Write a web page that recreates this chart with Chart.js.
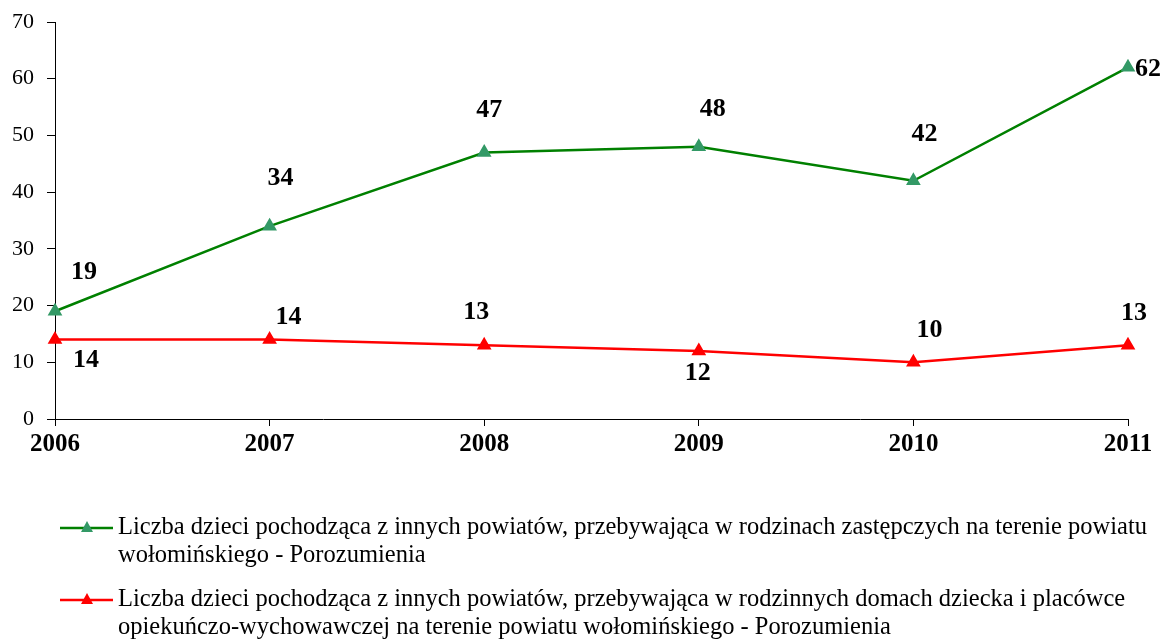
<!DOCTYPE html>
<html><head><meta charset="utf-8">
<script src="https://cdn.jsdelivr.net/npm/chart.js@4.4.0/dist/chart.umd.min.js"></script>
<style>html,body{margin:0;padding:0;background:#fff;}#wrap{position:relative;width:1165px;height:639px;}</style>
</head><body><div id="wrap"><canvas id="c" width="1165" height="639"></canvas></div>
<script>
const years = ['2006','2007','2008','2009','2010','2011'];
const yTicks = [0,10,20,30,40,50,60,70];
const greenValues = [19,34,47,48,42,62];
const redValues = [14,14,13,12,10,13];
const greenLabel = ['Liczba dzieci pochodząca z innych powiatów, przebywająca w rodzinach zastępczych na terenie powiatu','wołomińskiego - Porozumienia'];
const redLabel = ['Liczba dzieci pochodząca z innych powiatów, przebywająca w rodzinnych domach dziecka i placówce','opiekuńczo-wychowawczej na terenie powiatu wołomińskiego - Porozumienia'];

// label offsets (style)
const greenOffsets = [[29,-39],[11,-48],[5,-42],[14,-37],[11,-47],[20,2]];
const redOffsets = [[31,21],[19,-22],[-8,-33],[-1,22],[16,-32],[6,-32]];

const serif = "'Liberation Serif','Times New Roman',serif";

const labelPlugin = {
  id: 'pointLabels',
  afterDatasetsDraw(chart) {
    const ctx = chart.ctx;
    ctx.save();
    ctx.font = 'bold 26px ' + serif;
    ctx.fillStyle = '#000';
    ctx.textAlign = 'center';
    ctx.textBaseline = 'middle';
    chart.data.datasets.forEach((ds, i) => {
      const meta = chart.getDatasetMeta(i);
      const offs = ds._offsets;
      meta.data.forEach((pt, j) => {
        ctx.fillText(String(ds.data[j]), pt.x + offs[j][0], pt.y + offs[j][1]);
      });
    });
    ctx.restore();
  }
};

const legendPlugin = {
  id: 'customLegend',
  afterDraw(chart) {
    const ctx = chart.ctx;
    ctx.save();
    const rows = [528, 600];
    chart.data.datasets.forEach((ds, i) => {
      const y = rows[i];
      ctx.strokeStyle = ds.borderColor;
      ctx.lineWidth = 2.5;
      ctx.beginPath(); ctx.moveTo(60, y); ctx.lineTo(113, y); ctx.stroke();
      ctx.fillStyle = ds.pointBackgroundColor;
      ctx.beginPath();
      ctx.moveTo(87, y - 7); ctx.lineTo(93, y + 4); ctx.lineTo(81, y + 4); ctx.closePath(); ctx.fill();
      ctx.fillStyle = '#000';
      ctx.font = '24.5px ' + serif;
      ctx.textAlign = 'left';
      ctx.textBaseline = 'middle';
      ds._legendLines.forEach((line, k) => ctx.fillText(line, 118, y + k * 28));
    });
    ctx.restore();
  }
};

new Chart(document.getElementById('c'), {
  type: 'line',
  data: {
    labels: years,
    datasets: [
      { label: greenLabel.join(' '), data: greenValues, borderColor: '#008000', backgroundColor: '#339966',
        pointBackgroundColor: '#339966', pointBorderColor: '#339966', pointStyle: 'triangle', pointRadius: 6,
        borderWidth: 2.5, tension: 0, _offsets: greenOffsets, _legendLines: greenLabel },
      { label: redLabel.join(' '), data: redValues, borderColor: '#FF0000', backgroundColor: '#FF0000',
        pointBackgroundColor: '#FF0000', pointBorderColor: '#FF0000', pointStyle: 'triangle', pointRadius: 6,
        borderWidth: 2.5, tension: 0, _offsets: redOffsets, _legendLines: redLabel }
    ]
  },
  options: {
    responsive: false, animation: false,
    layout: { padding: { top: 22, right: 37, left: 0, bottom: 0 } },
    plugins: { legend: { display: false }, tooltip: { enabled: false } },
    scales: {
      x: {
        offset: false,
        border: { display: true, color: '#000', width: 1 },
        grid: { display: true, drawOnChartArea: false, drawTicks: true, tickLength: 7, color: '#000', offset: false },
        ticks: { color: '#000', font: { family: serif, size: 25, weight: 'bold' }, padding: 4, maxRotation: 0 },
        afterFit(s) { s.height = 220; }
      },
      y: {
        min: 0, max: 70,
        afterBuildTicks(s) { s.ticks = yTicks.map(v => ({ value: v })); },
        border: { display: true, color: '#000', width: 1 },
        grid: { display: true, drawOnChartArea: false, drawTicks: true, tickLength: 8, color: '#000' },
        ticks: { color: '#000', font: { family: serif, size: 22, lineHeight: 0.8 }, padding: 13 },
        afterFit(s) { s.width = 55; }
      }
    }
  },
  plugins: [labelPlugin, legendPlugin]
});
</script></body></html>
